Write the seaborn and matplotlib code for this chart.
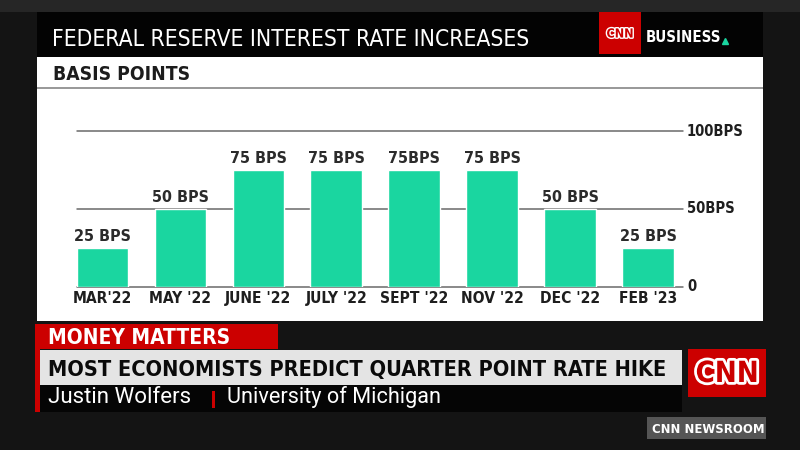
"""
Fed rate hikes chart, styled like the CNN Business lower-third graphic.
"""
import matplotlib
matplotlib.use('Agg')
import matplotlib.pyplot as plt
import matplotlib.patheffects as pe
from matplotlib.patches import Rectangle
import pandas as pd
import seaborn as sns

# data
months = ["MAR'22", "MAY '22", "JUNE '22", "JULY '22", "SEPT '22", "NOV '22", "DEC '22", "FEB '23"]
hikes_bps = [25, 50, 75, 75, 75, 75, 50, 25]
bar_labels = ["25 BPS", "50 BPS", "75 BPS", "75 BPS", "75BPS", "75 BPS", "50 BPS", "25 BPS"]
grid_values = [0, 50, 100]
grid_labels = ["0", "50BPS", "100BPS"]

title = "FEDERAL RESERVE INTEREST RATE INCREASES"
subtitle = "BASIS POINTS"
tag = "MONEY MATTERS"
headline = "MOST ECONOMISTS PREDICT QUARTER POINT RATE HIKE"
guest_name = "Justin Wolfers"
guest_org = "University of Michigan"
show_name = "CNN NEWSROOM"

BAR_COLOR = '#1ad6a0'
CNN_RED = '#cc0000'
W, H = 800, 450

sns.set_theme(style='white')
plt.rcParams['font.family'] = ['Liberation Sans Narrow', 'DejaVu Sans']
plt.rcParams['font.stretch'] = 'condensed'   # used only if a condensed face exists

fig = plt.figure(figsize=(W / 100, H / 100), dpi=100)
fig.patch.set_facecolor('#141414')

# pixel-space background axes for all the TV furniture
bg = fig.add_axes([0, 0, 1, 1])
bg.set_xlim(0, W)
bg.set_ylim(H, 0)
bg.axis('off')
renderer = fig.canvas.get_renderer()


def box(x0, y0, x1, y1, color, z=1):
    bg.add_patch(Rectangle((x0, y0), x1 - x0, y1 - y0, color=color, lw=0, zorder=z))


def fit_size(s, width, size, **kw):
    # largest font size (up to size) at which s is no wider than width px
    t = bg.text(0, 0, s, fontsize=size, **kw)
    w = t.get_window_extent(renderer).width
    t.remove()
    return size * min(1, width / w)


def fit_text(x0, x1, y, s, size, **kw):
    size = fit_size(s, x1 - x0, size, **kw)
    return bg.text(x0, y, s, fontsize=size, ha='left', va='baseline', zorder=5, **kw)


# top strip and title bar
box(0, 0, W, 12, '#262626')
box(37, 12, 763, 57, '#030303')
fit_text(52, 530, 45.5, title, 22, color='white')
box(599, 12, 641, 54, CNN_RED, z=2)
bg.text(620, 34, 'CNN', fontsize=9, fontweight='bold', color=CNN_RED, ha='center', va='center',
        zorder=5, path_effects=[pe.withStroke(linewidth=2, foreground='white')])
fit_text(646, 721, 42, 'BUSINESS', 20, color='white', fontweight='bold')
bg.plot([725], [41], marker='^', color=BAR_COLOR, ms=4, zorder=5)

# subtitle strip and chart panel
box(37, 57, 763, 87, 'white')
box(37, 87, 763, 89, '#9a9a9a')
box(37, 89, 763, 321, 'white')
fit_text(53, 190, 80, subtitle, 16, color='#1c1c1c', fontweight='bold')

# lower third
box(35, 324, 278, 349, CNN_RED)
box(35, 324, 40, 412, CNN_RED)
box(40, 350, 682, 385, '#e4e4e4')
box(40, 385, 682, 412, '#050505')
fit_text(48, 263, 344, tag, 15, color='white', fontweight='bold')
fit_text(48, 666, 376, headline, 18, color='#0a0a0a', fontweight='bold')
fit_text(48, 201, 403, guest_name, 16, color='white', family=['Roboto', 'DejaVu Sans'])
box(212, 391, 215, 408, CNN_RED, z=3)
fit_text(227, 440, 403, guest_org, 16, color='white', family=['Roboto', 'DejaVu Sans'])
box(688, 349, 766, 397, CNN_RED)
bg.text(727, 374, 'CNN', fontsize=21, fontweight='bold', color=CNN_RED, ha='center', va='center',
        zorder=5, path_effects=[pe.withStroke(linewidth=4, foreground='white')])
box(647, 417, 766, 439, '#555555')
fit_text(652, 764, 433, show_name, 9.5, color='white', fontweight='bold')

# the bar chart itself
df = pd.DataFrame({'month': months, 'bps': hikes_bps})
left, right, base, top = 76.7, 683, 286.7, 131
ax = fig.add_axes([left / W, 1 - base / H, (right - left) / W, (base - top) / H])
ax.set_zorder(3)
ax.set_facecolor('none')

sns.barplot(data=df, x='month', y='bps', color=BAR_COLOR, saturation=1, width=0.664,
            ax=ax, zorder=2)

# the broadcast face is narrower than anything installed, so trade a little width for height
tick_size = fit_size("JUNE '22", 66, 12.5, fontweight='bold')
value_size = fit_size("75 BPS", 57, 15, fontweight='bold')
right_size = fit_size("100BPS", 57, 12.5, fontweight='bold')

for v in grid_values:
    ax.axhline(v, color='#6a6a6a', lw=1.1, zorder=1, clip_on=False)
for v, lab in zip(grid_values, grid_labels):
    ax.text(1 + 4 / (right - left), v, lab, transform=ax.get_yaxis_transform(),
            ha='left', va='center', fontsize=right_size, fontweight='bold', color='#1e1e1e')

for i, (v, lab) in enumerate(zip(hikes_bps, bar_labels)):
    ax.annotate(lab, (i, v), xytext=(0, 5), textcoords='offset points', ha='center',
                va='baseline', fontsize=value_size, fontweight='bold', color='#2b2b2b')

ax.set_xlim(-0.332, 7.45)
ax.set_ylim(0, 100)
ax.set_xticks(range(len(months)))
ax.set_xticklabels(months, fontsize=tick_size, fontweight='bold', color='#1e1e1e')
ax.tick_params(axis='x', length=0, pad=3)
ax.set_yticks([])
ax.set_xlabel('')
ax.set_ylabel('')
sns.despine(ax=ax, left=True, bottom=True)

fig.savefig('out.png', dpi=100, facecolor=fig.get_facecolor())
